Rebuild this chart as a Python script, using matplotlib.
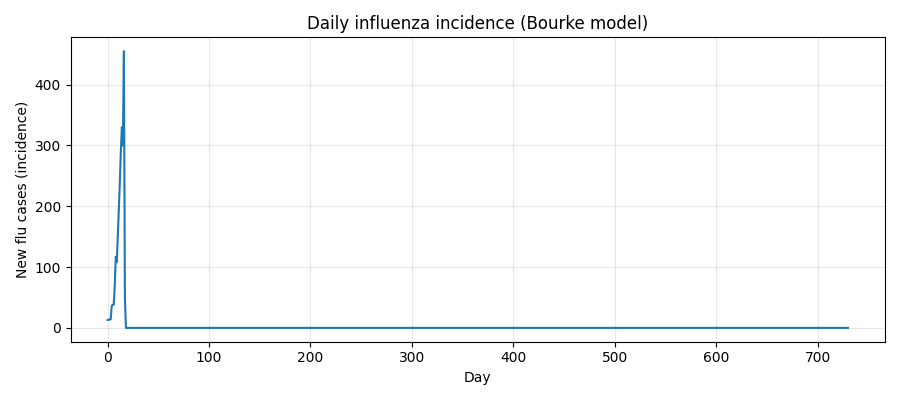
import numpy as np
import matplotlib.pyplot as plt

# Incidence over the first days of the outbreak, zeros afterwards
early = [13, 13, 14, 14, 36, 38, 38, 70, 117, 108, 150, 195, 240, 290, 330, 300, 455, 50, 0]
incidence = np.array(early + [0] * (731 - len(early)), dtype=float)
days = np.arange(len(incidence))

fig, ax = plt.subplots(figsize=(9, 4), dpi=100)
ax.plot(days, incidence, color='#1f77b4', linewidth=1.5)
ax.set_title('Daily influenza incidence (Bourke model)')
ax.set_xlabel('Day')
ax.set_ylabel('New flu cases (incidence)')
ax.grid(True, alpha=0.3)
fig.tight_layout()
fig.savefig('out.png')
